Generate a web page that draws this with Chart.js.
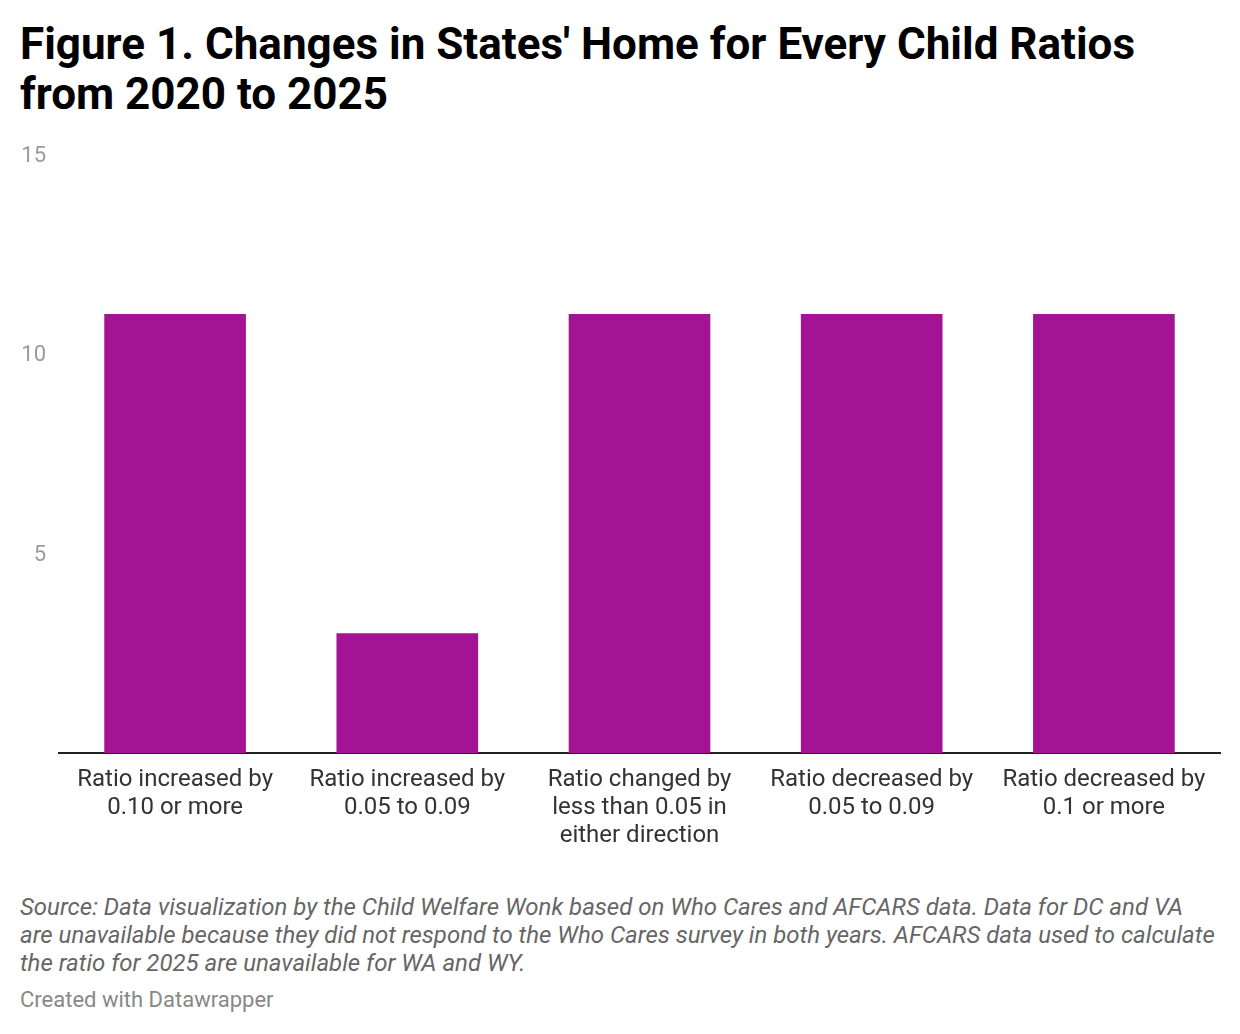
<!DOCTYPE html>
<html>
<head>
<meta charset="utf-8">
<script src="https://cdn.jsdelivr.net/npm/chart.js@4"></script>
<style>
  html, body { margin: 0; padding: 0; background: #fff; }
  body { width: 1240px; height: 1034px; position: relative; font-family: Roboto, sans-serif; overflow: hidden; }
  #title { position: absolute; left: 20px; top: 19px; width: 1210px; font-size: 44px; font-weight: 700; line-height: 50px; color: #000; }
  #wrap { position: absolute; left: 0; top: 128px; width: 1240px; height: 732px; }
  #source { position: absolute; left: 20px; top: 893px; width: 1215px; font-size: 24px; font-style: italic; line-height: 28px; color: #666; }
  #credit { position: absolute; left: 20px; top: 987px; font-size: 22px; color: #888; }
</style>
</head>
<body>
<div id="title">Figure 1. Changes in States' Home for Every Child Ratios<br>from 2020 to 2025</div>
<div id="wrap"><canvas id="chart"></canvas></div>
<div id="source">Source: Data visualization by the Child Welfare Wonk based on Who Cares and AFCARS data. Data for DC and VA<br>are unavailable because they did not respond to the Who Cares survey in both years. AFCARS data used to calculate<br>the ratio for 2025 are unavailable for WA and WY.</div>
<div id="credit">Created with Datawrapper</div>
<script>
// categories (already split into label lines)
const categories = [
  ['Ratio increased by', '0.10 or more'],
  ['Ratio increased by', '0.05 to 0.09'],
  ['Ratio changed by', 'less than 0.05 in', 'either direction'],
  ['Ratio decreased by', '0.05 to 0.09'],
  ['Ratio decreased by', '0.1 or more']
];
// number of states in each group
const stateCounts = [11, 3, 11, 11, 11];
const yTicks = [5, 10, 15];

const ctx = document.getElementById('chart').getContext('2d');
new Chart(ctx, {
  type: 'bar',
  data: {
    labels: categories,
    datasets: [{
      data: stateCounts,
      backgroundColor: '#a31394',
      barPercentage: 0.61,
      categoryPercentage: 1
    }]
  },
  options: {
    responsive: true,
    maintainAspectRatio: false,
    animation: false,
    layout: { padding: { top: 13, right: 20, left: 0, bottom: 0 } },
    plugins: { legend: { display: false }, tooltip: { enabled: false } },
    scales: {
      x: {
        grid: { display: false, drawTicks: false },
        border: { display: true, color: '#222', width: 2 },
        ticks: {
          color: '#333',
          font: { family: 'Roboto', size: 24, lineHeight: 1.1667 },
          padding: 13,
          maxRotation: 0,
          autoSkip: false
        },
        afterFit: s => { s.height = 107; }
      },
      y: {
        min: 0,
        max: 15,
        grid: { display: false, drawTicks: false },
        border: { display: false },
        afterBuildTicks: s => { s.ticks = yTicks.map(v => ({ value: v })); },
        ticks: {
          color: '#9a9a9a',
          font: { family: 'Roboto', size: 22 },
          padding: 13,
          labelOffset: 2
        },
        afterFit: s => { s.width = 59; }
      }
    }
  }
});
</script>
</body>
</html>
